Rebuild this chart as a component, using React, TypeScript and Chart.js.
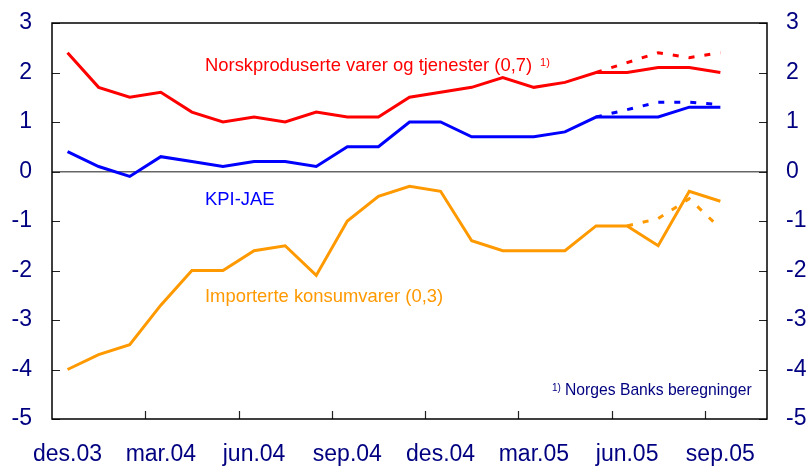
import React, { useEffect, useRef } from "react";
import { Chart, registerables } from "chart.js";

Chart.register(...registerables);

const months = [
  "des.03", "jan.04", "feb.04", "mar.04", "apr.04", "mai.04", "jun.04", "jul.04",
  "aug.04", "sep.04", "okt.04", "nov.04", "des.04", "jan.05", "feb.05", "mar.05",
  "apr.05", "mai.05", "jun.05", "jul.05", "aug.05", "sep.05", "okt.05",
];

const norsk = [2.4, 1.7, 1.5, 1.6, 1.2, 1.0, 1.1, 1.0, 1.2, 1.1, 1.1, 1.5, 1.6, 1.7, 1.9, 1.7, 1.8, 2.0, 2.0, 2.1, 2.1, 2.0];
const kpiJae = [0.4, 0.1, -0.1, 0.3, 0.2, 0.1, 0.2, 0.2, 0.1, 0.5, 0.5, 1.0, 1.0, 0.7, 0.7, 0.7, 0.8, 1.1, 1.1, 1.1, 1.3, 1.3];
const importert = [-4.0, -3.7, -3.5, -2.7, -2.0, -2.0, -1.6, -1.5, -2.1, -1.0, -0.5, -0.3, -0.4, -1.4, -1.6, -1.6, -1.6, -1.1, -1.1, -1.5, -0.4, -0.6];

const N = null;
const norskDashed = [N, N, N, N, N, N, N, N, N, N, N, N, N, N, N, N, N, 2.0, 2.2, 2.4, 2.3, 2.4];
const kpiJaeDashed = [N, N, N, N, N, N, N, N, N, N, N, N, N, N, N, N, N, 1.1, 1.25, 1.4, 1.4, 1.35];
const importertDashed = [N, N, N, N, N, N, N, N, N, N, N, N, N, N, N, N, N, N, -1.1, -0.95, -0.55, -1.15];

const yTicks = [-5, -4, -3, -2, -1, 0, 1, 2, 3];

const RED = "#ff0000";
const BLUE = "#0000ff";
const ORANGE = "#ff9900";
const NAVY = "#000080";
const FONT = "Arial, 'Liberation Sans', sans-serif";

const framePlugin = {
  id: "frame",
  afterDraw(chart: any) {
    const { ctx, chartArea: a, scales } = chart;
    ctx.save();
    // ticks (inward)
    ctx.strokeStyle = "#222";
    ctx.lineWidth = 1.2;
    yTicks.forEach((v) => {
      const y = Math.round(scales.y.getPixelForValue(v)) + 0.5;
      ctx.beginPath();
      ctx.moveTo(a.left, y);
      ctx.lineTo(a.left + 8, y);
      ctx.moveTo(a.right - 8, y);
      ctx.lineTo(a.right, y);
      ctx.stroke();
    });
    const x0 = scales.x.getPixelForValue(0);
    const x1 = scales.x.getPixelForValue(1);
    const half = (x1 - x0) / 2;
    for (let i = 3; i < months.length; i += 3) {
      const x = Math.round(scales.x.getPixelForValue(i) - half) + 0.5;
      ctx.beginPath();
      ctx.moveTo(x, a.bottom);
      ctx.lineTo(x, a.bottom - 8);
      ctx.stroke();
    }
    // box
    ctx.strokeStyle = "#000";
    ctx.lineWidth = 1.5;
    ctx.strokeRect(a.left, a.top, a.right - a.left, a.bottom - a.top);

    // annotations
    ctx.textBaseline = "alphabetic";
    ctx.textAlign = "left";
    ctx.fillStyle = RED;
    ctx.font = `18.4px ${FONT}`;
    const t1 = "Norskproduserte varer og tjenester (0,7)";
    ctx.fillText(t1, 205, 71);
    const w1 = ctx.measureText(t1).width;
    ctx.font = `11px ${FONT}`;
    ctx.fillText("1)", 205 + w1 + 8, 66);

    ctx.fillStyle = BLUE;
    ctx.font = `18.4px ${FONT}`;
    ctx.fillText("KPI-JAE", 205, 205);

    ctx.fillStyle = ORANGE;
    ctx.fillText("Importerte konsumvarer (0,3)", 205, 302);

    ctx.fillStyle = NAVY;
    ctx.font = `10px ${FONT}`;
    ctx.fillText("1)", 552, 391);
    ctx.font = `15.7px ${FONT}`;
    ctx.fillText("Norges Banks beregninger", 565, 395);
    ctx.restore();
  },
};

const fixV = (w: number) => (s: any) => {
  s.width = w;
  s.paddingTop = 0;
  s.paddingBottom = 0;
};

export default function App() {
  const ref = useRef<HTMLCanvasElement | null>(null);

  useEffect(() => {
    if (!ref.current) return;
    const solid = (data: number[], color: string) => ({
      data,
      borderColor: color,
      backgroundColor: color,
      borderWidth: 3,
      pointRadius: 0,
      tension: 0,
      fill: false,
      yAxisID: "y",
    });
    const dashed = (data: (number | null)[], color: string) => ({
      data,
      borderColor: color,
      backgroundColor: color,
      borderWidth: 3,
      borderDash: [6, 10],
      pointRadius: 0,
      tension: 0,
      fill: false,
      spanGaps: false,
      yAxisID: "y",
    });
    const chart = new Chart(ref.current, {
      type: "line",
      data: {
        labels: months,
        datasets: [
          dashed(norskDashed, RED),
          dashed(kpiJaeDashed, BLUE),
          dashed(importertDashed, ORANGE),
          solid(norsk, RED),
          solid(kpiJae, BLUE),
          solid(importert, ORANGE),
        ] as any,
      },
      options: {
        animation: false,
        responsive: false,
        layout: { padding: { top: 23, left: 0, right: 0, bottom: 0 } },
        plugins: { legend: { display: false }, tooltip: { enabled: false } },
        scales: {
          x: {
            type: "category",
            offset: true,
            grid: { display: false, drawTicks: false },
            border: { display: false },
            afterFit: (s: any) => {
              s.height = 55;
              s.paddingLeft = 0;
              s.paddingRight = 0;
            },
            ticks: {
              autoSkip: false,
              maxRotation: 0,
              minRotation: 0,
              padding: 22,
              color: NAVY,
              font: { family: FONT, size: 23 },
              callback: (_v: any, i: number) => (i % 3 === 0 ? months[i] : ""),
            },
          },
          y: {
            position: "left",
            min: -5,
            max: 3,
            afterFit: fixV(52),
            border: { display: false },
            grid: {
              drawTicks: false,
              lineWidth: 1.5,
              color: (c: any) => (c.tick && c.tick.value === 0 ? "#666666" : "rgba(0,0,0,0)"),
            },
            ticks: {
              stepSize: 1,
              padding: 20,
              color: NAVY,
              font: { family: FONT, size: 23 },
            },
          },
          y2: {
            position: "right",
            min: -5,
            max: 3,
            afterFit: fixV(45),
            border: { display: false },
            grid: { display: false, drawTicks: false },
            ticks: {
              stepSize: 1,
              padding: 19,
              color: NAVY,
              font: { family: FONT, size: 23 },
            },
          },
        },
      } as any,
      plugins: [framePlugin],
    });
    return () => chart.destroy();
  }, []);

  return (
    <div style={{ position: "fixed", left: 0, top: 0, width: 812, height: 474, background: "#fff" }}>
      <canvas ref={ref} width={812} height={474} style={{ display: "block" }} />
    </div>
  );
}
